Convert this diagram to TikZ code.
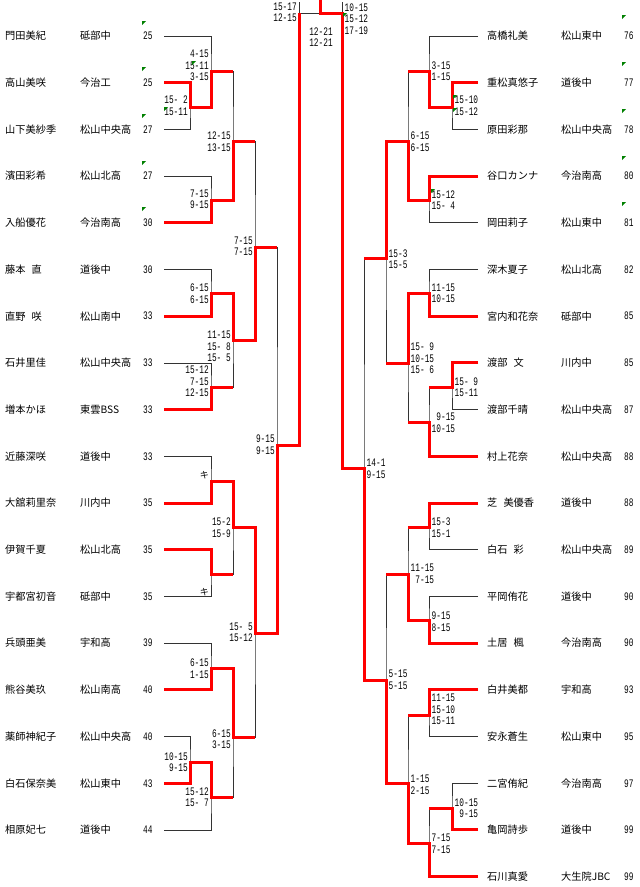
\documentclass[tikz,border=0pt]{standalone}
\usepackage{fontspec}
\newfontfamily\jpfont{Noto Sans CJK JP}
\newfontfamily\scfont[FakeStretch=0.68]{Liberation Mono}
\newcommand\jsp{\hspace{.6em}}
\usetikzlibrary{calc}

\tikzset{
    plr/.style={font=\jpfont\fontsize{10.2}{12}\selectfont, anchor=west, inner sep=0pt},
    num/.style={font=\scfont\fontsize{11.5}{11.5}\selectfont, anchor=west, inner sep=0pt},
    scl/.style={font=\scfont\fontsize{11.5}{11.5}\selectfont, anchor=east, align=right, inner sep=0pt},
    scr/.style={font=\scfont\fontsize{11.5}{11.5}\selectfont, anchor=west, align=right, inner sep=0pt},
    lose/.style={draw=black!80, line width=0.8pt},
    win/.style={draw=red, line width=3pt},
    cmt/.style={fill=green!50!black},
}

\begin{document}
\begin{tikzpicture}[x=1pt,y=-1pt]
    \fill[white] (0,0) rectangle (640,887);
    \useasboundingbox (0,0) rectangle (640,887);

    % left players
    \foreach \nm/\sch/\sd [count=\i] in {門田美紀/砥部中/25, 高山美咲/今治工/25,
        山下美紗季/松山中央高/27, 濱田彩希/松山北高/27, 入船優花/今治南高/30,
        藤本\jsp 直/道後中/30, 直野\jsp 咲/松山南中/33, 石井里佳/松山中央高/33,
        増本かほ/東雲BSS/33, 近藤深咲/道後中/33, 大舘莉里奈/川内中/35,
        伊賀千夏/松山北高/35, 宇都宮初音/砥部中/35, 兵頭亜美/宇和高/39,
        熊谷美玖/松山南高/40, 薬師神紀子/松山中央高/40, 白石保奈美/松山東中/43,
        相原妃七/道後中/44}{
        \pgfmathsetmacro\yy{36+46.7*(\i-1)}
        \node[plr] (ln\i) at (5,\yy) {\nm};
        \node[plr] (ls\i) at (80,\yy) {\sch};
        \node[num] (ld\i) at (143,\yy) {\sd};
        \coordinate (l\i) at (164,\yy);
    }

    % right players
    \foreach \nm/\sch/\sd [count=\i] in {高橋礼美/松山東中/76, 重松真悠子/道後中/77,
        原田彩那/松山中央高/78, 谷口カンナ/今治南高/80, 岡田莉子/松山東中/81,
        深木夏子/松山北高/82, 宮内和花奈/砥部中/85, 渡部\jsp 文/川内中/85,
        渡部千晴/松山中央高/87, 村上花奈/松山中央高/88, 芝\jsp 美優香/道後中/88,
        白石\jsp 彩/松山中央高/89, 平岡侑花/道後中/90, 土居\jsp 楓/今治南高/90,
        白井美都/宇和高/93, 安永蒼生/松山東中/95, 二宮侑紀/今治南高/97,
        亀岡詩歩/道後中/99, 石川真愛/大生院JBC/99}{
        \pgfmathsetmacro\yy{36+46.7*(\i-1)}
        \node[plr] (rn\i) at (487,\yy) {\nm};
        \node[plr] (rs\i) at (561,\yy) {\sch};
        \node[num] (rd\i) at (624,\yy) {\sd};
        \coordinate (r\i) at (478,\yy);
    }

    % junctions
    \coordinate (j1) at (190,107);  \coordinate (j2) at (211,71);
    \coordinate (j3) at (211,200);  \coordinate (j4) at (233,141);
    \coordinate (j5) at (211,293);  \coordinate (j6) at (211,387);
    \coordinate (j7) at (233,340);  \coordinate (j8) at (255,247);
    \coordinate (j9) at (211,481);  \coordinate (j10) at (211,574);
    \coordinate (j11) at (233,527); \coordinate (j12) at (211,668);
    \coordinate (j13) at (190,762); \coordinate (j14) at (211,797);
    \coordinate (j15) at (233,737); \coordinate (j16) at (255,633);
    \coordinate (j17) at (277,445);
    \coordinate (k1) at (452,107);  \coordinate (k2) at (429,71);
    \coordinate (k3) at (429,200);  \coordinate (k4) at (408,141);
    \coordinate (k5) at (429,293);  \coordinate (k6) at (452,387);
    \coordinate (k7) at (429,422);  \coordinate (k8) at (408,363);
    \coordinate (k9) at (386,258);  \coordinate (k10) at (429,527);
    \coordinate (k11) at (429,620); \coordinate (k12) at (408,574);
    \coordinate (k13) at (429,715); \coordinate (k14) at (452,808);
    \coordinate (k15) at (429,843); \coordinate (k16) at (408,783);
    \coordinate (k17) at (386,680); \coordinate (k18) at (364,468);
    \coordinate (fl) at (299,13);   \coordinate (fr) at (342,13);
    \coordinate (flt) at (299,2);   \coordinate (frt) at (342,2);
    \coordinate (ch) at (320,13);   \coordinate (top) at (320,0);

    % bracket
    \draw[lose] (l2) -| (j1) |- (l3);
    \draw[lose] (l1) -| (j2) |- (j1);
    \draw[lose] (l4) -| (j3) |- (l5);
    \draw[lose] (j2) -| (j4) |- (j3);
    \draw[lose] (l6) -| (j5) |- (l7);
    \draw[lose] (l8) -| (j6) |- (l9);
    \draw[lose] (j5) -| (j7) |- (j6);
    \draw[lose] (j4) -| (j8) |- (j7);
    \draw[lose] (l10) -| (j9) |- (l11);
    \draw[lose] (l12) -| (j10) |- (l13);
    \draw[lose] (j9) -| (j11) |- (j10);
    \draw[lose] (l14) -| (j12) |- (l15);
    \draw[lose] (l16) -| (j13) |- (l17);
    \draw[lose] (j13) -| (j14) |- (l18);
    \draw[lose] (j12) -| (j15) |- (j14);
    \draw[lose] (j11) -| (j16) |- (j15);
    \draw[lose] (j8) -| (j17) |- (j16);
    \draw[lose] (j17) -| (flt);
    \draw[lose] (r2) -| (k1) |- (r3);
    \draw[lose] (r1) -| (k2) |- (k1);
    \draw[lose] (r4) -| (k3) |- (r5);
    \draw[lose] (k2) -| (k4) |- (k3);
    \draw[lose] (r6) -| (k5) |- (r7);
    \draw[lose] (r8) -| (k6) |- (r9);
    \draw[lose] (k6) -| (k7) |- (r10);
    \draw[lose] (k5) -| (k8) |- (k7);
    \draw[lose] (k4) -| (k9) |- (k8);
    \draw[lose] (r11) -| (k10) |- (r12);
    \draw[lose] (r13) -| (k11) |- (r14);
    \draw[lose] (k10) -| (k12) |- (k11);
    \draw[lose] (r15) -| (k13) |- (r16);
    \draw[lose] (r17) -| (k14) |- (r18);
    \draw[lose] (k14) -| (k15) |- (r19);
    \draw[lose] (k13) -| (k16) |- (k15);
    \draw[lose] (k12) -| (k17) |- (k16);
    \draw[lose] (k9) -| (k18) |- (k17);
    \draw[lose] (k18) -| (frt);
    \draw[lose] (fl) -- (fr);

    % winners
    \draw[win] (l2) -| (j1) -| (j2) -- (j2 -| j4);
    \draw[win] (l5) -| (j3) -| (j4) -- (j4 -| j8);
    \draw[win] (l7) -| (j5) -| (j7) -| (j8) -- (j8 -| j17);
    \draw[win] (l9) -| (j6) -- (j6 -| j7);
    \draw[win] (l11) -| (j9) -| (j11) -| (j16) -| (j17) -| (fl);
    \draw[win] (l12) -| (j10) -- (j10 -| j11);
    \draw[win] (l15) -| (j12) -| (j15) -- (j15 -| j16);
    \draw[win] (l17) -| (j13) -| (j14) -- (j14 -| j15);
    \draw[win] (r2) -| (k1) -| (k2) -- (k2 -| k4);
    \draw[win] (r4) -| (k3) -| (k4) -| (k9) -- (k9 -| k18);
    \draw[win] (r7) -| (k5) -| (k8) -- (k8 -| k9);
    \draw[win] (r8) -| (k6) -- (k6 -| k7);
    \draw[win] (r10) -| (k7) -- (k7 -| k8);
    \draw[win] (r11) -| (k10) -- (k10 -| k12);
    \draw[win] (r14) -| (k11) -| (k12) -- (k12 -| k17);
    \draw[win] (r15) -| (k13) -- (k13 -| k16);
    \draw[win] (r18) -| (k14) -- (k14 -| k15);
    \draw[win] (r19) -| (k15) -| (k16) -| (k17) -| (k18) -| (fr) -- (ch) -- (top);

    % scores left
    \node[scl] (sl1) at (188,105.5) {15- 2\\15-11};
    \node[scl] (sl2) at (209,65.5) {4-15\\15-11\\3-15};
    \node[scl] (sl3) at (209,199.5) {7-15\\9-15};
    \node[scl] (sl4) at (231,141.5) {12-15\\13-15};
    \node[scl] (sl5) at (209,293.5) {6-15\\6-15};
    \node[scl] (sl6) at (209,381.5) {15-12\\7-15\\12-15};
    \node[scl] (sl7) at (231,346.5) {11-15\\15- 8\\15- 5};
    \node[scl] (sl8) at (253,246.5) {7-15\\7-15};
    \node[scl, font=\jpfont\fontsize{9}{10}\selectfont] (sl9) at (209,475) {キ};
    \node[scl, font=\jpfont\fontsize{9}{10}\selectfont] (sl10) at (209,592) {キ};
    \node[scl] (sl11) at (231,527.5) {15-2\\15-9};
    \node[scl] (sl12) at (209,668.5) {6-15\\1-15};
    \node[scl] (sl13) at (188,762) {10-15\\9-15};
    \node[scl] (sl14) at (209,797) {15-12\\15- 7};
    \node[scl] (sl15) at (231,739) {6-15\\3-15};
    \node[scl] (sl16) at (253,632.5) {15- 5\\15-12};
    \node[scl] (sl17) at (275,444.5) {9-15\\9-15};
    \node[scl] (sl18) at (297,12.5) {15-17\\12-15};

    % scores right
    \node[scr] (sr1) at (454.5,105.5) {15-10\\15-12};
    \node[scr] (sr2) at (431.5,71) {3-15\\1-15};
    \node[scr] (sr3) at (431.5,200) {15-12\\15- 4};
    \node[scr] (sr4) at (410.5,141.5) {6-15\\6-15};
    \node[scr] (sr5) at (431.5,293.5) {11-15\\10-15};
    \node[scr] (sr6) at (454.5,387) {15- 9\\15-11};
    \node[scr] (sr7) at (431.5,422.5) {9-15\\10-15};
    \node[scr] (sr8) at (410.5,358.5) {15- 9\\10-15\\15- 6};
    \node[scr] (sr9) at (388.5,259) {15-3\\15-5};
    \node[scr] (sr10) at (431.5,527.5) {15-3\\15-1};
    \node[scr] (sr11) at (431.5,621.5) {9-15\\8-15};
    \node[scr] (sr12) at (410.5,574) {11-15\\7-15};
    \node[scr] (sr13) at (431.5,709.5) {11-15\\15-10\\15-11};
    \node[scr] (sr14) at (454.5,808) {10-15\\9-15};
    \node[scr] (sr15) at (431.5,844) {7-15\\7-15};
    \node[scr] (sr16) at (410.5,785) {1-15\\2-15};
    \node[scr] (sr17) at (388.5,680) {5-15\\5-15};
    \node[scr] (sr18) at (366.5,469) {14-1\\9-15};
    \node[scr, align=left] (sr19) at (344.5,19) {10-15\\15-12\\17-19};
    \node[scl, anchor=center, align=center] (sfin) at (321,37) {12-21\\12-21};

    % comment marks
    \foreach \x/\y in {142/21, 142/67, 142/114, 142/161, 142/207, 192/61, 164/107,
        622/15, 622/62, 622/109, 622/156, 622/202, 343/13, 453/95, 453/108, 431/189}
        \fill[cmt] (\x,\y) -- ++(4,0) -- ++(-4,4) -- cycle;
\end{tikzpicture}
\end{document}
